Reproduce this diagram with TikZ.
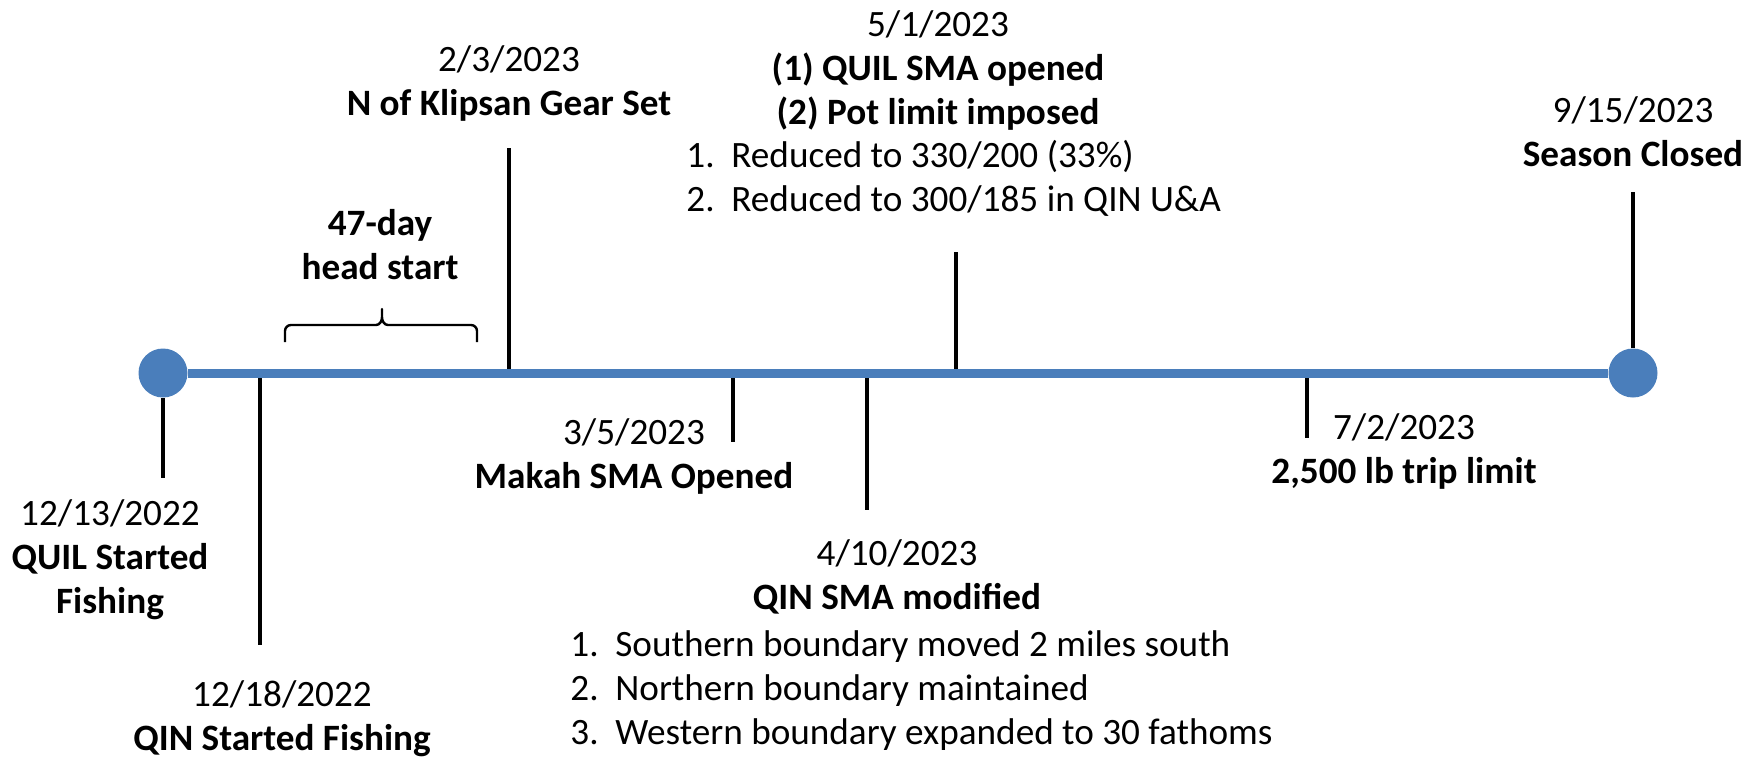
\documentclass[tikz,border=0pt]{standalone}
\usepackage{fontspec}
\setmainfont{Carlito}
\definecolor{tlblue}{RGB}{74,126,187}
\newcommand{\itm}[2]{\makebox[22.5pt][l]{#1}#2}

\begin{document}
\begin{tikzpicture}[x=0.5pt, y=-0.5pt,
    dot/.style = {circle, fill=tlblue, minimum size=24.5pt, inner sep=0pt},
    axis/.style = {tlblue, line width=4.5pt},
    tick/.style = {black, line width=2.3pt},
    brace/.style = {black, line width=1.2pt, line join=round},
    lbl/.style = {align=center, inner sep=0pt, anchor=base, font=\fontsize{18.6}{22}\selectfont},
    lst/.style = {align=left, inner sep=0pt, anchor=base west, font=\fontsize{18.6}{22}\selectfont}]
    \useasboundingbox (0,0) rectangle (1762,761);

    \node[dot] (0) at (163,373) {};
    \node[dot] (7) at (1633,373) {};
    \coordinate (1) at (260,373);
    \coordinate (2) at (509,373);
    \coordinate (3) at (733,373);
    \coordinate (4) at (867,373);
    \coordinate (5) at (956,373);
    \coordinate (6) at (1307,373);

    % tick ends
    \coordinate (0e) at (163,478);
    \coordinate (1e) at (260,645);
    \coordinate (2e) at (509,148);
    \coordinate (3e) at (733,442);
    \coordinate (4e) at (867,510);
    \coordinate (5e) at (956,252);
    \coordinate (6e) at (1307,438);
    \coordinate (7e) at (1633,192);

    % ticks
    \draw[tick] (0) -- (0e);
    \draw[tick] (1) -- (1e);
    \draw[tick] (2) -- (2e);
    \draw[tick] (3) -- (3e);
    \draw[tick] (4) -- (4e);
    \draw[tick] (5) -- (5e);
    \draw[tick] (6) -- (6e);
    \draw[tick] (7) -- (7e);

    % timeline
    \draw[axis] (0) -- (7);

    % labels (placed at the baseline of their last line)
    \node[lbl] (l0) at (110,613) {12/13/2022\\\textbf{QUIL Started}\\\textbf{Fishing}};
    \node[lbl] (l1) at (282,750) {12/18/2022\\\textbf{QIN Started Fishing}};
    \node[lbl] (l2) at (509,115) {2/3/2023\\\textbf{N of Klipsan Gear Set}};
    \node[lbl] (l3) at (634,488) {3/5/2023\\\textbf{Makah SMA Opened}};
    \node[lbl] (l4) at (897,609) {4/10/2023\\\textbf{QIN SMA modified}};
    \node[lst] (l4a) at (570,744) {\itm{1.}{Southern boundary moved 2 miles south}\\
        \itm{2.}{Northern boundary maintained}\\\itm{3.}{Western boundary expanded to 30 fathoms}};
    \node[lbl] (l5) at (938,124) {5/1/2023\\\textbf{(1) QUIL SMA opened}\\\textbf{(2) Pot limit imposed}};
    \node[lst] (l5a) at (686,211) {\itm{1.}{Reduced to 330/200 (33\%)}\\\itm{2.}{Reduced to 300/185 in QIN U\&A}};
    \node[lbl] (l6) at (1404,483) {7/2/2023\\\textbf{2,500 lb trip limit}};
    \node[lbl] (l7) at (1633,166) {9/15/2023\\\textbf{Season Closed}};

    % head start
    \draw[brace] (285,342) -- (285,331) to[out=90,in=180] (291,325) -- (376,325)
        to[out=0,in=-90] (382,317) -- (382,309) -- (382,317) to[out=-90,in=180] (388,325)
        -- (471,325) to[out=0,in=90] (477,331) -- (477,342);
    \node[lbl] (hs) at (380,279) {\textbf{47-day}\\\textbf{head start}};
\end{tikzpicture}
\end{document}
